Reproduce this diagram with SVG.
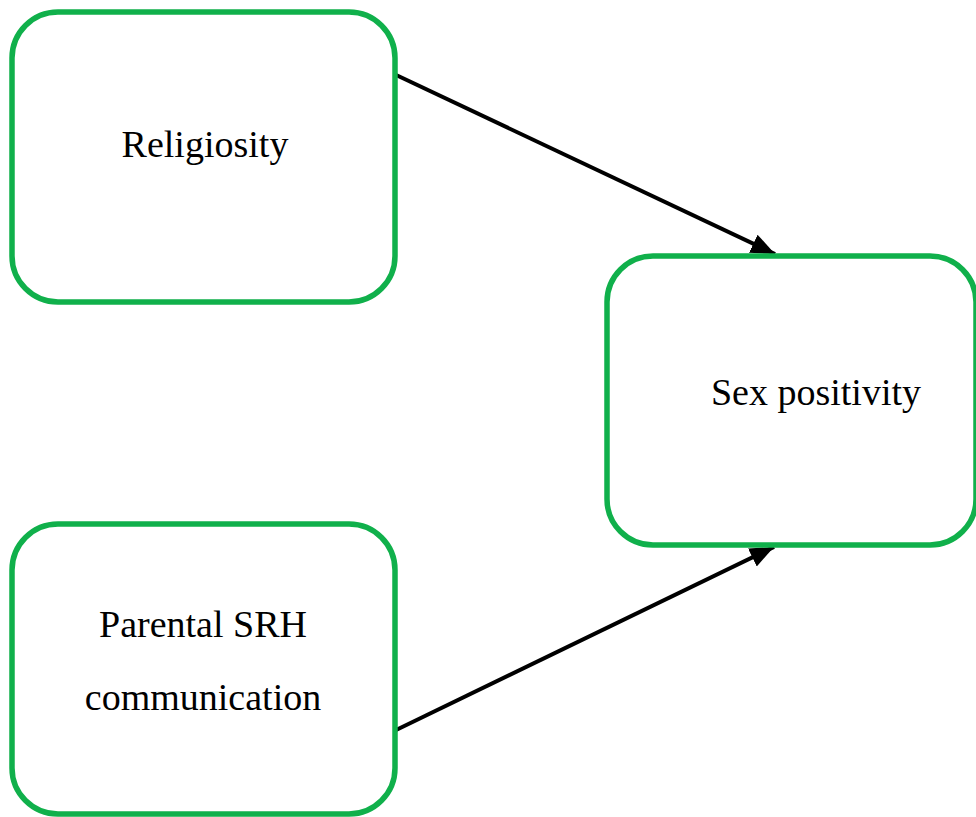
<svg xmlns="http://www.w3.org/2000/svg" width="976" height="817" viewBox="0 0 976 817">
<style>
.node{fill:#ffffff;stroke:#10b04b;stroke-width:5.5}
.lbl{font-family:"Liberation Serif","Times New Roman",serif;font-size:38px;fill:#000;text-anchor:middle}
.edge{stroke:#000;stroke-width:4;fill:none}
</style>
<defs>
<marker id="ah" markerUnits="userSpaceOnUse" markerWidth="26" markerHeight="22" viewBox="0 0 26 22" refX="24" refY="11" orient="auto">
<path d="M0,1 L24,11 L0,21 Z" fill="#000"/>
</marker>
</defs>
<rect width="976" height="817" fill="#ffffff"/>
<g id="connectors">
<line class="edge" x1="394" y1="74" x2="775" y2="254" marker-end="url(#ah)"/>
<line class="edge" x1="394" y1="731" x2="774" y2="547" marker-end="url(#ah)"/>
</g>
<g id="religiosity">
<rect class="node" x="12" y="12" width="383" height="290" rx="46" ry="46"/>
<text class="lbl" x="205" y="157">Religiosity</text>
</g>
<g id="sex-positivity">
<rect class="node" x="607" y="256" width="369" height="289" rx="46" ry="46"/>
<text class="lbl" x="816" y="405">Sex positivity</text>
</g>
<g id="parental-srh">
<rect class="node" x="12" y="524" width="383" height="290" rx="46" ry="46"/>
<text class="lbl" x="203" y="637">Parental SRH</text>
<text class="lbl" x="203" y="710">communication</text>
</g>
</svg>
